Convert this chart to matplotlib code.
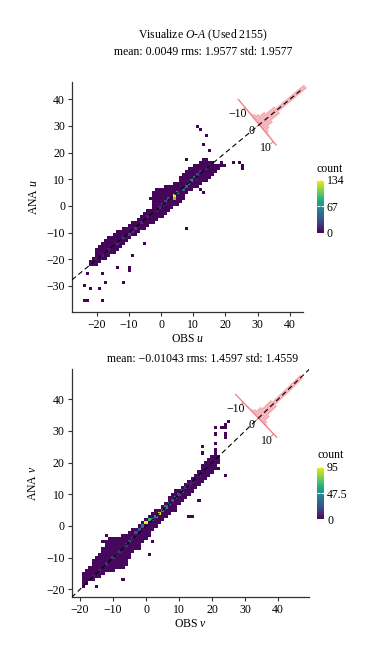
import numpy as np
import matplotlib
matplotlib.use('Agg')
import matplotlib.pyplot as plt
import matplotlib.transforms as mtransforms

plt.rcParams['font.family'] = ['Liberation Serif', 'DejaVu Serif']
plt.rcParams['mathtext.fontset'] = 'custom'
plt.rcParams['mathtext.rm'] = 'Liberation Serif'
plt.rcParams['mathtext.it'] = 'Liberation Serif:italic'
plt.rcParams['font.size'] = 8.5

# ---------------- u component (top panel) ----------------
# band rows of the 2D histogram: row y, first and last filled x
u_row_y = [-22, -21, -20, -19, -18, -17, -16, -15, -14, -13, -12, -11, -10, -9, -8, -7, -6, -5, -4, -3,
           -2, -1, 0, 1, 2, 3, 4, 5, 6, 7, 8, 9, 10, 11, 12, 13, 14, 15, 16, 17]
u_row_x0 = [-22.5, -22, -21.5, -21, -20.5, -20, -21, -20, -18.5, -17.5, -16.5, -15, -14, -12.5, -11.5, -10, -9, -8, -6.5, -5.5,
            -4.5, -3, -2.5, -2, -3, -3.5, -3, -2.5, -2, 1, 3.5, 5, 5.5, 5, 6, 7.5, 8.5, 10, 12, 13]
u_row_x1 = [-19.5, -18.5, -17, -16, -15, -14, -13, -12.5, -11, -10, -9, -7.5, -6.5, -5.5, -4.5, -3.5, -2, -1, 1, 1.5,
            2.5, 3.5, 4.5, 5.5, 6.5, 7, 7.5, 8.5, 10, 12, 13, 13.5, 14.5, 15.5, 16.5, 17.5, 18, 20, 17, 14.5]
# brighter cells along the diagonal
u_core_x = [4.4, 3.9, 5.4, 6.4, 7.4, 8.6, 9.5, 10.5, 11.5, 12.5, 2.5, 1.5, 0.5, -0.5, -2, -4, -6, -8, -9, -10,
            -12, -14, -16, -18, -20, 14, 15.5]
u_core_y = [4.1, 3.0, 5.5, 6.2, 7.3, 8.5, 9.6, 10.6, 11.7, 12.8, 2.3, 1.2, 0.3, -0.8, -2, -4, -6.3, -8.5, -9.4, -10.5,
            -12, -14.2, -16.4, -18.5, -20.2, 14, 15.3]
u_core_n = [134, 100, 70, 40, 35, 55, 60, 40, 25, 15, 30, 25, 20, 18, 12, 12, 15, 22, 18, 25,
            20, 15, 10, 8, 6, 10, 8]
# isolated cells
u_out_x = [11.4, 12.5, 14.5, 13.5, 15.5, 8.0, 22.5, 24, 25.6, 25.6, 7.5, -4.9, -9, -10.1, -10.1, -13.7, -23, -17.9,
           -17.3, -11.7, -24, -22, -18.9, -24, -23, -17.9, 12.7, 13.2, 19]
u_out_y = [30.1, 28.5, 26, 23.2, 20.6, 17.8, 16, 16, 15.4, 14, -8.4, -14, -19, -22.7, -24, -22.7, -25.5, -25.5,
           -28.4, -28.4, -29.6, -30.9, -30.9, -35, -35, -35, 6, 4.5, 16]
# O-A histogram (bins of 1 from -15 to 12)
u_oa_counts = [1, 1, 0, 1, 2, 2, 4, 6, 9, 16, 34, 60, 120, 230, 594,
               594, 230, 120, 60, 34, 16, 9, 5, 3, 2, 1, 2]

# ---------------- v component (bottom panel) ----------------
v_row_y = [-18, -17, -16, -15, -14, -13, -12, -11, -10, -9, -8, -7, -6, -5, -4, -3, -2, -1, 0, 1, 2,
           3, 4, 5, 6, 7, 8, 9, 10, 11, 12, 13, 14, 15, 16, 17, 18, 19, 20, 21, 22]
v_row_x0 = [-19, -19, -19, -19, -18, -17.5, -16.5, -16, -15, -14.5, -13.5, -13, -12.5, -12, -11, -7, -5, -4, -2.5, -1, 0,
            1, 2, 3, 4.5, 5.5, 6.5, 7, 8, 9, 10.5, 11.5, 12.5, 13.5, 15, 15.5, 16.5, 17, 17.5, 18.5, 20]
v_row_x1 = [-17.5, -15.5, -14, -12.5, -10, -6.5, -6, -6, -5, -5, -3.5, -2, -1.5, -0.5, 0, 1, 1.5, 2.5, 3, 4, 5,
            6.5, 7.5, 9, 9.5, 10.5, 11, 12, 13, 14, 15, 16, 17, 18, 19, 20, 21, 21.5, 22, 22.5, 22.5]
v_core_x = [0, 1, 2, 3, 4, 5, 6, 7, 8, 9, 10, 11, 12, 13, 14, 16, -1, -2, -3, -4, -5, -6, -8, -9, -10, -12, -14, -16]
v_core_y = [1, 2, 2, 3, 4, 5, 6, 7, 8, 9, 10, 11, 12, 13, 14, 16, 0, -1, -2, -4, -5, -6, -8, -9, -10, -12, -14, -16]
v_core_n = [95, 60, 35, 50, 85, 45, 35, 30, 25, 20, 18, 15, 12, 10, 10, 8, 35, 25, 20, 18, 15, 15, 14, 12, 12, 10, 8, 6]
v_out_x = [24.5, 24, 24, 22.5, 20.5, 20.5, 23.5, 24, 17, 17, 20.5, 21, 21, 22, 22, 23.5, 15.5, 12.5, 13.5,
           -12.5, -13.5, 1.5, 1, -7.5, -19, -15]
v_out_y = [33, 32, 31, 31, 31, 29, 29, 28, 25, 23, 25.5, 24, 23, 20, 18, 16, 8, 3, 3,
           -3, -5, -5, -9, -17.5, -19, -19]
v_oa_counts = [1, 0, 1, 0, 1, 1, 2, 4, 5, 9, 20, 42, 105, 240, 668,
               668, 240, 105, 42, 20, 9, 5, 3, 2, 1, 1, 1]

oa_edges = np.arange(-15, 13, 1.0)


def build_cells(row_y, row_x0, row_x1, core_x, core_y, core_n, out_x, out_y, xedges):
    xc = 0.5 * (xedges[:-1] + xedges[1:])
    px, py, pw = [], [], []
    for y, a, b in zip(row_y, row_x0, row_x1):
        sel = xc[(xc >= a) & (xc <= b)]
        px += list(sel)
        py += [y] * len(sel)
        pw += [2] * len(sel)
    px += list(core_x); py += list(core_y); pw += list(core_n)
    px += list(out_x); py += list(out_y); pw += [1] * len(out_x)
    return np.array(px), np.array(py), np.array(pw)


def panel(fig, rect, cbrect, cells, xedges, yedges, vmax, cticks, xlim, ylim, yticks,
          oa_counts, center, xlab, ylab):
    ax = fig.add_axes(rect)
    px, py, pw = cells
    h, xe, ye, im = ax.hist2d(px, py, bins=[xedges, yedges], weights=pw, cmin=0.5,
                              cmap='viridis', vmin=0, vmax=vmax)
    ax.set_xlim(xlim)
    ax.set_ylim(ylim)
    ax.plot(xlim, xlim, ls=(0, (4.5, 3)), color='black', lw=0.8, zorder=5)
    ax.set_xticks([-20, -10, 0, 10, 20, 30, 40])
    ax.set_yticks(yticks)
    for s in ['top', 'right']:
        ax.spines[s].set_visible(False)
    for s in ['left', 'bottom']:
        ax.spines[s].set_color('#333333')
        ax.spines[s].set_linewidth(0.9)
    ax.tick_params(length=3, width=0.8, color='#333333', pad=2, labelsize=8.5)
    ax.set_xlabel(xlab, fontsize=8.5)
    ax.set_ylabel(ylab, fontsize=8.5)
    ax.xaxis.set_label_coords(0.5, -0.09)
    ax.yaxis.set_label_coords(-0.138, 0.5)

    # rotated O-A histogram placed on the diagonal
    p0 = ax.transData.transform((center, center))
    p1 = ax.transData.transform((center + 1, center + 1))
    d = (p1 - p0) / np.hypot(*(p1 - p0))
    e_perp = np.array([d[1], -d[0]])
    su = 2.2
    sh = 60.0 / max(oa_counts)
    M = np.array([[e_perp[0] * su, d[0] * sh, p0[0]],
                  [e_perp[1] * su, d[1] * sh, p0[1]],
                  [0, 0, 1]])
    tr = mtransforms.Affine2D(M)
    centers = 0.5 * (oa_edges[:-1] + oa_edges[1:])
    ax.bar(centers, oa_counts, width=1.0, transform=tr, color='#F4A3AC',
           edgecolor='#FBD3D8', linewidth=0.4, clip_on=False, zorder=3)
    ax.plot([oa_edges[0], oa_edges[-1]], [0, 0], transform=tr, color='#EE7F88',
            lw=0.9, clip_on=False, zorder=4)
    for t in [-10, 0, 10]:
        ax.plot([t, t], [0, -3 / sh], transform=tr, color='#EE7F88', lw=0.8, clip_on=False, zorder=4)
        pos = M @ np.array([t, -10 / sh, 1])
        ax.text(pos[0], pos[1], '\u2212%d' % abs(t) if t < 0 else '%d' % t,
                transform=mtransforms.IdentityTransform(), ha='center', va='center',
                fontsize=8.5, zorder=6)

    cax = fig.add_axes(cbrect)
    cb = fig.colorbar(im, cax=cax, ticks=cticks)
    cb.outline.set_visible(False)
    cb.ax.tick_params(direction='in', color='white', length=2, width=0.8, left=True, right=True,
                      labelsize=8.5, pad=2)
    cb.ax.set_yticklabels(['%g' % c for c in cticks])
    cb.ax.set_title('count', loc='left', fontsize=8.5, pad=6)
    return ax


fig = plt.figure(figsize=(3.77, 6.6), dpi=100)

u_xedges = np.linspace(-24.3, 40.7, 71)
u_yedges = np.linspace(-36.1, 42.8, 71)
u_cells = build_cells(u_row_y, u_row_x0, u_row_x1, u_core_x, u_core_y, u_core_n, u_out_x, u_out_y, u_xedges)
panel(fig, [72 / 377, 348 / 660, 231 / 377, 230 / 660], [316.7 / 377, 427.3 / 660, 7.3 / 377, 52.7 / 660],
      u_cells, u_xedges, u_yedges, 134, [0, 67, 134], (-27.7, 44.1), (-39.75, 46.5),
      [-30, -20, -10, 0, 10, 20, 30, 40], u_oa_counts, 30.5, 'OBS $u$', 'ANA $u$')

v_xedges = np.arange(-19.5, 47, 1.0)
v_yedges = np.arange(-19.5, 47, 1.0)
v_cells = build_cells(v_row_y, v_row_x0, v_row_x1, v_core_x, v_core_y, v_core_n, v_out_x, v_out_y, v_xedges)
panel(fig, [71.7 / 377, 62.7 / 660, 237.6 / 377, 228 / 660], [317 / 377, 140.7 / 660, 7.3 / 377, 52.6 / 660],
      v_cells, v_xedges, v_yedges, 95, [0, 47.5, 95], (-22.5, 49.4), (-22.5, 49.4),
      [-20, -10, 0, 10, 20, 30, 40], v_oa_counts, 34, 'OBS $v$', 'ANA $v$')

fig.text(0.538, 0.946, 'Visualize $O$-$A$ (Used 2155)', ha='center', va='center', fontsize=8.5)
fig.text(0.538, 0.9208, 'mean: 0.0049 rms: 1.9577 std: 1.9577', ha='center', va='center', fontsize=8.5)
fig.text(0.538, 0.4565, 'mean: \u22120.01043 rms: 1.4597 std: 1.4559', ha='center', va='center', fontsize=8.5)

fig.savefig('out.png', dpi=100)
